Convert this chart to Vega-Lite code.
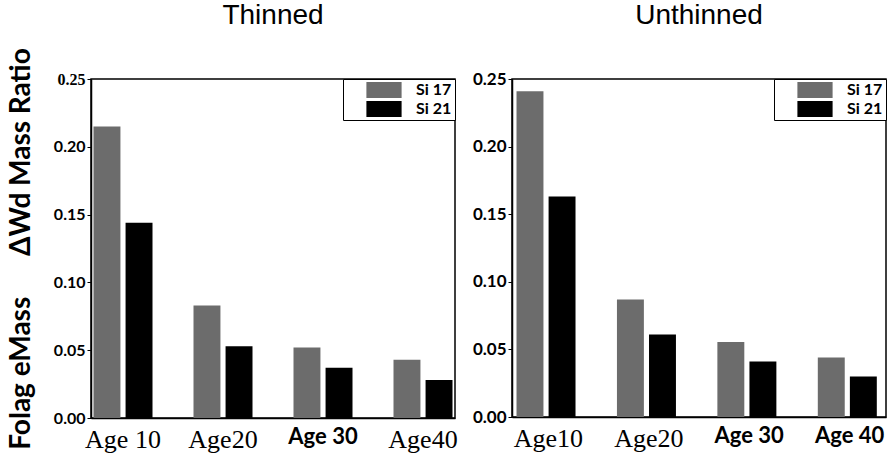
{
  "$schema": "https://vega.github.io/schema/vega-lite/v6.json",
  "background": "white",
  "padding": {"left": 6, "top": 1, "right": 0, "bottom": 0},
  "bounds": "flush",
  "data": {"values": [
    {"treatment": "Thinned", "age": "Age 10", "series": "Si 17", "ratio": 0.215},
    {"treatment": "Thinned", "age": "Age 10", "series": "Si 21", "ratio": 0.144},
    {"treatment": "Thinned", "age": "Age20", "series": "Si 17", "ratio": 0.083},
    {"treatment": "Thinned", "age": "Age20", "series": "Si 21", "ratio": 0.053},
    {"treatment": "Thinned", "age": "Age 30", "series": "Si 17", "ratio": 0.052},
    {"treatment": "Thinned", "age": "Age 30", "series": "Si 21", "ratio": 0.037},
    {"treatment": "Thinned", "age": "Age40", "series": "Si 17", "ratio": 0.043},
    {"treatment": "Thinned", "age": "Age40", "series": "Si 21", "ratio": 0.028},
    {"treatment": "Unthinned", "age": "Age10", "series": "Si 17", "ratio": 0.241},
    {"treatment": "Unthinned", "age": "Age10", "series": "Si 21", "ratio": 0.163},
    {"treatment": "Unthinned", "age": "Age20", "series": "Si 17", "ratio": 0.087},
    {"treatment": "Unthinned", "age": "Age20", "series": "Si 21", "ratio": 0.061},
    {"treatment": "Unthinned", "age": "Age 30", "series": "Si 17", "ratio": 0.0555},
    {"treatment": "Unthinned", "age": "Age 30", "series": "Si 21", "ratio": 0.041},
    {"treatment": "Unthinned", "age": "Age 40", "series": "Si 17", "ratio": 0.044},
    {"treatment": "Unthinned", "age": "Age 40", "series": "Si 21", "ratio": 0.030}
  ]},
  "config": {
    "view": {"stroke": "black", "strokeWidth": 1.5},
    "axis": {"domainColor": "black", "tickColor": "black", "labelColor": "black", "titleColor": "black", "grid": false},
    "title": {"font": "Liberation Sans", "fontSize": 28, "fontWeight": "normal", "color": "black", "offset": 40},
    "legend": {
      "orient": "top-right", "offset": 0, "title": null,
      "strokeColor": "black", "fillColor": "white", "padding": 3,
      "symbolType": "M-2.2,-1H2.2V1H-2.2Z", "symbolSize": 256, "symbolStrokeWidth": 0,
      "symbolOffset": 30, "labelOffset": 24, "rowPadding": 3,
      "labelExpr": "datum.label + '\u00a0\u00a0\u00a0'",
      "labelFont": "Lato", "labelFontWeight": "bold", "labelFontSize": 16, "labelColor": "black"
    }
  },
  "spacing": 57,
  "resolve": {"legend": {"color": "independent"}},
  "hconcat": [
    {
      "title": {"text": "Thinned", "offset": 18},
      "width": 364, "height": 339,
      "transform": [{"filter": "datum.treatment === 'Thinned'"}],
      "mark": {"type": "bar"},
      "encoding": {
        "x": {"field": "age", "type": "nominal", "sort": ["Age 10", "Age20", "Age 30", "Age40"],
          "scale": {"paddingInner": 0.41, "paddingOuter": 0.025},
          "axis": {"title": null, "labelAngle": 0, "labelPadding": 8, "ticks": false, "domainWidth": 1.5,
            "labelFontSize": {"expr": "datum.value == 'Age 30' || datum.value == 'Age 40' ? 22 : 26"},
            "labelFont": {"expr": "datum.value == 'Age 30' || datum.value == 'Age 40' ? 'Lato' : 'Liberation Serif'"},
            "labelFontWeight": {"expr": "datum.value == 'Age 30' || datum.value == 'Age 40' ? 'bold' : 'normal'"}}},
        "xOffset": {"field": "series", "type": "nominal", "scale": {"paddingInner": 0.16, "paddingOuter": 0}},
        "y": {"field": "ratio", "type": "quantitative", "scale": {"domain": [0, 0.25], "nice": false},
          "axis": {"values": [0, 0.05, 0.1, 0.15, 0.2, 0.25], "format": ".2f", "title": "Folag eMass\u00a0\u00a0\u00a0\u00a0\u00a0\u00a0ΔWd Mass Ratio",
            "titleFont": "Lato", "titleFontSize": 28, "titleFontWeight": "bold", "titlePadding": 18,
            "labelFontSize": 16, "labelFontWeight": "bold", "labelPadding": 2, "tickSize": 4, "domainWidth": 1.5,
            "labelFont": {"expr": "datum.value == 0.25 ? 'Liberation Serif' : 'Lato'"}}},
        "color": {"field": "series", "type": "nominal", "scale": {"domain": ["Si 17", "Si 21"], "range": ["#6c6c6c", "#000000"]}}
      }
    },
    {
      "title": "Unthinned",
      "width": 374, "height": 338,
      "transform": [{"filter": "datum.treatment === 'Unthinned'"}],
      "mark": {"type": "bar"},
      "encoding": {
        "x": {"field": "age", "type": "nominal", "sort": ["Age10", "Age20", "Age 30", "Age 40"],
          "scale": {"paddingInner": 0.366, "paddingOuter": 0.045},
          "axis": {"title": null, "labelAngle": 0, "labelPadding": 8, "ticks": false, "domainWidth": 1.5,
            "labelFontSize": {"expr": "datum.value == 'Age 30' || datum.value == 'Age 40' ? 22 : 26"},
            "labelFont": {"expr": "datum.value == 'Age 30' || datum.value == 'Age 40' ? 'Lato' : 'Liberation Serif'"},
            "labelFontWeight": {"expr": "datum.value == 'Age 30' || datum.value == 'Age 40' ? 'bold' : 'normal'"}}},
        "xOffset": {"field": "series", "type": "nominal", "scale": {"paddingInner": 0.19, "paddingOuter": 0}},
        "y": {"field": "ratio", "type": "quantitative", "scale": {"domain": [0, 0.25], "nice": false},
          "axis": {"values": [0, 0.05, 0.1, 0.15, 0.2, 0.25], "format": ".2f", "title": null,
            "labelFont": "Lato", "labelFontSize": 17, "labelFontWeight": "bold", "labelPadding": 2, "tickSize": 4, "domainWidth": 1.5}},
        "color": {"field": "series", "type": "nominal", "scale": {"domain": ["Si 17", "Si 21"], "range": ["#6c6c6c", "#000000"]}}
      }
    }
  ]
}
